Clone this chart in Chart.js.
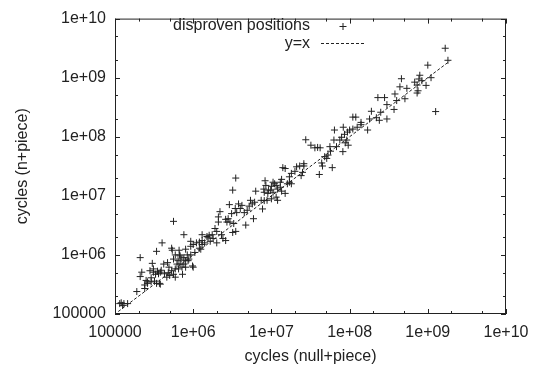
<!DOCTYPE html>
<html>
<head>
<meta charset="utf-8">
<script src="https://cdn.jsdelivr.net/npm/chart.js@4/dist/chart.umd.min.js"></script>
<style>
  body { margin: 0; background: #fff; }
</style>
</head>
<body>
<canvas id="chart" width="538" height="370"></canvas>
<script>
// cycles needed with the null+piece heuristic (x) and the n+piece heuristic (y)
const nullPieceCycles = [
  1.67e9, 1.81e9, 1.0e9, 1.26e9, 1.10e9, 9.5e8, 7.7e8, 7.9e8, 8.4e8, 7.3e8,
  6.8e8, 7.5e8, 7.3e8, 5.4e8, 4.6e8, 4.4e8, 5.1e8, 3.8e8, 4.0e8, 3.7e8,
  2.8e8, 2.3e8, 3.0e8, 2.5e8, 3.0e8, 2.4e8, 2.2e8, 1.9e8, 1.8e8, 1.7e8,
  1.4e8, 1.4e8, 1.1e8, 1.2e8, 1.25e8, 1.1e8, 1.0e8, 9.4e7, 8.3e7, 8.6e7,
  7.9e7, 7.5e7, 9.2e7, 9.6e7, 8.8e7, 6.3e7, 6.4e7, 6.8e7, 5.6e7, 5.7e7,
  8.2e7, 5.3e7, 4.8e7, 5.1e7, 6.0e7, 4.4e7, 4.5e7, 4.1e7, 4.2e7, 3.9e7,
  3.2e7, 2.75e7, 3.6e7, 2.6e7, 2.6e7, 2.1e7, 2.5e7, 2.4e7, 2.0e7, 1.8e7,
  1.7e7, 1.7e7, 1.8e7, 1.5e7, 1.4e7, 1.35e7, 1.6e7, 1.3e7, 1.1e7, 1.05e7,
  1.15e7, 1.2e7, 1.3e7, 1.35e7, 1.5e7, 1.15e7, 1.05e7, 9.0e6, 8.3e6, 8.5e6,
  8.0e6, 8.1e6, 9.2e6, 8.8e6, 8.1e6, 1.0e7, 1.2e7, 7.7e6, 7.4e6, 6.3e6,
  6.1e6, 5.4e6, 5.7e6, 5.2e6, 4.9e6, 4.5e6, 5.9e6, 4.2e6, 4.0e6, 3.8e6,
  3.5e6, 3.2e6, 2.9e6, 3.45e6, 3.6e6, 3.1e6, 2.8e6, 2.6e6, 2.7e6, 2.95e6,
  3.3e6, 3.2e6, 3.5e6, 4.7e6, 2.2e6, 2.1e6, 2.1e6, 1.9e6, 2.0e6, 1.75e6,
  1.6e6, 1.55e6, 1.5e6, 1.8e6, 1.65e6, 1.3e6, 1.3e6, 1.4e6, 2.0e6, 2.4e6,
  2.6e6, 2.3e6, 1.2e6, 1.1e6, 1.0e6, 9.3e5, 1.2e6, 1.25e6, 1.05e6, 9.3e5,
  8.0e5, 8.4e5, 7.6e5, 7.6e5, 6.6e5, 6.7e5, 7.0e5, 6.4e5, 5.9e5, 5.6e5,
  5.3e5, 5.4e5, 5.6e5, 6.2e5, 6.8e5, 7.6e5, 8.0e5, 7.2e5, 6.5e5, 5.9e5,
  5.3e5, 4.9e5, 4.7e5, 4.2e5, 4.0e5, 3.4e5, 4.8e5, 5.0e5, 4.3e5, 3.9e5,
  3.8e5, 3.6e5, 3.5e5, 4.6e5, 5.6e5, 7.3e5, 5.9e5, 3.0e5, 3.1e5, 3.1e5,
  3.3e5, 2.8e5, 2.5e5, 2.6e5, 2.9e5, 3.2e5, 3.7e5, 3.8e5, 3.4e5, 2.4e5,
  2.4e5, 2.6e5, 2.9e5, 2.2e5, 2.1e5, 2.1e5, 1.9e5, 1.15e5, 1.2e5, 1.25e5,
  1.45e5, 1.3e5, 8.6e5, 9.8e5, 1.0e6, 8.8e5, 8.0e5, 6.8e5, 1.3e6, 9.3e5,
  1.0e7, 9.8e6, 2.3e7
];
const nPieceCycles = [
  3.15e9, 1.97e9, 1.63e9, 2.67e8, 1.0e9, 7.4e8, 9.5e8, 1.1e9, 8.9e8, 7.5e8,
  8.4e8, 6.0e8, 5.5e8, 6.6e8, 9.6e8, 7.0e8, 4.4e8, 5.3e8, 4.1e8, 2.9e8,
  4.6e8, 4.6e8, 3.5e8, 2.6e8, 2.0e8, 1.9e8, 2.1e8, 2.7e8, 2.0e8, 1.3e8,
  1.75e8, 1.6e8, 2.15e8, 2.15e8, 1.45e8, 1.35e8, 1.3e8, 1.2e8, 1.45e8, 1.1e8,
  9.8e7, 8.8e7, 8.8e7, 7.2e7, 7.9e7, 8.8e7, 1.3e8, 6.8e7, 6.8e7, 5.7e7,
  5.6e7, 4.9e7, 4.6e7, 4.3e7, 3.0e7, 3.6e7, 3.2e7, 2.3e7, 6.5e7, 6.6e7,
  7.2e7, 8.9e7, 6.5e7, 3.5e7, 3.2e7, 3.1e7, 2.5e7, 2.2e7, 2.6e7, 2.4e7,
  2.1e7, 1.7e7, 1.6e7, 2.9e7, 3.0e7, 1.9e7, 1.6e7, 1.7e7, 1.6e7, 1.7e7,
  1.5e7, 1.3e7, 1.4e7, 1.2e7, 1.1e7, 9.5e6, 1.15e7, 1.1e7, 1.8e7, 1.5e7,
  1.3e7, 1.15e7, 1.25e7, 8.4e6, 8.3e6, 8.9e6, 8.4e6, 6.0e6, 8.4e6, 1.2e7,
  7.8e6, 8.4e6, 7.3e6, 6.7e6, 5.7e6, 5.2e6, 4.1e6, 6.9e6, 6.1e6, 7.3e6,
  2.0e7, 1.25e7, 7.1e6, 6.1e6, 5.2e6, 5.0e6, 4.1e6, 4.0e6, 3.6e6, 3.6e6,
  3.4e6, 2.4e6, 2.5e6, 3.2e6, 5.4e6, 4.4e6, 3.6e6, 2.8e6, 2.5e6, 2.2e6,
  2.15e6, 1.95e6, 2.05e6, 1.9e6, 1.7e6, 2.2e6, 1.75e6, 1.6e6, 1.6e6, 1.9e6,
  1.75e6, 2.2e6, 1.65e6, 1.6e6, 1.5e6, 1.7e6, 1.3e6, 1.25e6, 1.1e6, 1.0e6,
  1.25e6, 1.0e6, 9.0e5, 2.2e6, 1.2e6, 1.0e6, 8.5e5, 8.0e5, 1.0e6, 3.7e6,
  1.3e6, 1.2e6, 8.5e5, 7.0e5, 7.0e5, 7.0e5, 6.2e5, 6.2e5, 5.8e5, 5.8e5,
  5.4e5, 6.2e5, 7.4e5, 7.0e5, 1.6e6, 1.15e6, 5.0e5, 4.5e5, 4.8e5, 5.5e5,
  5.1e5, 4.8e5, 5.3e5, 4.2e5, 4.7e5, 4.7e5, 4.2e5, 7.2e5, 5.8e5, 5.1e5,
  4.7e5, 5.4e5, 3.7e5, 3.5e5, 3.5e5, 3.6e5, 3.3e5, 3.2e5, 3.3e5, 3.1e5,
  2.7e5, 3.3e5, 4.1e5, 5.1e5, 4.3e5, 9.0e5, 2.4e5, 1.5e5, 1.55e5, 1.4e5,
  1.5e5, 1.5e5, 8.0e5, 6.5e5, 6.2e5, 8.5e5, 8.0e5, 9.6e5, 1.5e6, 1.4e6,
  1.45e7, 1.25e7, 3.2e7
];

// reference line y = x over the range of the data
const diagonalEnds = [1.1e5, 1.9e9];

// axis ticks: labelled decades plus minor ticks at 2 and 5
const decadeValues = [1e5, 1e6, 1e7, 1e8, 1e9, 1e10];
const decadeLabels = ['100000', '1e+06', '1e+07', '1e+08', '1e+09', '1e+10'];
const minorFactors = [2, 5];

const ink = '#222';
const font16 = { family: '"Liberation Sans", Arial, sans-serif', size: 16 };

function allTickValues() {
  let vals = [];
  decadeValues.forEach((d, i) => {
    vals.push(d);
    if (i < decadeValues.length - 1)
      minorFactors.forEach(f => vals.push(d * f));
  });
  return vals.sort((a, b) => a - b);
}

function decadeLabel(value) {
  const i = decadeValues.findIndex(d => Math.abs(d - value) / d < 1e-6);
  return i >= 0 ? decadeLabels[i] : '';
}

function isDecade(value) {
  return decadeLabel(value) !== '';
}

const points = nullPieceCycles.map((x, i) => ({ x: x, y: nPieceCycles[i] }));
const diagonal = diagonalEnds.map(v => ({ x: v, y: v }));

// frame with inward ticks on all sides, and a gnuplot style key
const gnuplotFrame = {
  id: 'gnuplotFrame',
  afterDraw(chart) {
    const ctx = chart.ctx;
    const a = chart.chartArea;
    const xs = chart.scales.x;
    const ys = chart.scales.y;
    ctx.save();
    ctx.strokeStyle = ink;
    ctx.lineWidth = 1;
    ctx.strokeRect(a.left + 0.5, a.top + 0.5, a.right - a.left - 1, a.bottom - a.top - 1);

    ctx.beginPath();
    allTickValues().forEach(v => {
      const len = isDecade(v) ? 5 : 3;
      const px = Math.round(xs.getPixelForValue(v)) + 0.5;
      ctx.moveTo(px, a.bottom);
      ctx.lineTo(px, a.bottom - len);
      ctx.moveTo(px, a.top);
      ctx.lineTo(px, a.top + len);
      const py = Math.round(ys.getPixelForValue(v)) + 0.5;
      ctx.moveTo(a.left, py);
      ctx.lineTo(a.left + len, py);
      ctx.moveTo(a.right, py);
      ctx.lineTo(a.right - len, py);
    });
    ctx.stroke();

    // key
    const textRight = 310;
    const sampleLeft = 321, sampleRight = 364;
    const rows = [26, 44];
    ctx.font = '16px ' + font16.family;
    ctx.fillStyle = ink;
    ctx.textAlign = 'right';
    ctx.textBaseline = 'middle';
    chart.data.datasets.forEach((ds, i) => {
      const y = rows[i];
      ctx.fillText(ds.label, textRight, y);
      ctx.strokeStyle = ink;
      ctx.lineWidth = 1;
      ctx.beginPath();
      if (ds.pointStyle === 'cross') {
        const cx = (sampleLeft + sampleRight) / 2 + 0.5;
        ctx.moveTo(cx - 3.5, y + 0.5);
        ctx.lineTo(cx + 3.5, y + 0.5);
        ctx.moveTo(cx, y - 3);
        ctx.lineTo(cx, y + 4);
        ctx.setLineDash([]);
      } else {
        ctx.setLineDash(ds.borderDash || []);
        ctx.moveTo(sampleLeft, y - 0.5);
        ctx.lineTo(sampleRight, y - 0.5);
      }
      ctx.stroke();
    });
    ctx.restore();
  }
};

new Chart(document.getElementById('chart'), {
  type: 'scatter',
  data: {
    datasets: [
      {
        label: 'disproven positions',
        data: points,
        pointStyle: 'cross',
        pointRadius: 3.5,
        pointBorderWidth: 1,
        borderColor: ink,
        backgroundColor: ink,
        showLine: false
      },
      {
        type: 'line',
        label: 'y=x',
        data: diagonal,
        borderColor: ink,
        borderWidth: 1,
        borderDash: [3, 2],
        pointRadius: 0,
        fill: false
      }
    ]
  },
  options: {
    responsive: false,
    devicePixelRatio: 1,
    animation: false,
    layout: { padding: { top: 12, right: 32, left: 0, bottom: 0 } },
    plugins: {
      legend: { display: false },
      tooltip: { enabled: false }
    },
    scales: {
      x: {
        type: 'logarithmic',
        position: 'bottom',
        min: 1e5,
        max: 1e10,
        grid: { display: false, drawTicks: false },
        border: { display: false },
        afterBuildTicks: scale => { scale.ticks = allTickValues().map(v => ({ value: v })); },
        afterFit: scale => { scale.height = 56; },
        ticks: {
          autoSkip: false,
          maxRotation: 0,
          padding: 9,
          color: ink,
          font: font16,
          callback: value => decadeLabel(value)
        },
        title: {
          display: true,
          text: 'cycles (null+piece)',
          color: ink,
          font: font16,
          padding: { top: 0, bottom: 4 }
        }
      },
      y: {
        type: 'logarithmic',
        position: 'left',
        min: 1e5,
        max: 1e10,
        grid: { display: false, drawTicks: false },
        border: { display: false },
        afterBuildTicks: scale => { scale.ticks = allTickValues().map(v => ({ value: v })); },
        afterFit: scale => { scale.width = 115; },
        ticks: {
          autoSkip: false,
          padding: 9,
          color: ink,
          font: font16,
          callback: value => decadeLabel(value)
        },
        title: {
          display: true,
          text: 'cycles (n+piece)',
          color: ink,
          font: font16,
          padding: { top: 13, bottom: 0 }
        }
      }
    }
  },
  plugins: [gnuplotFrame]
});
</script>
</body>
</html>
